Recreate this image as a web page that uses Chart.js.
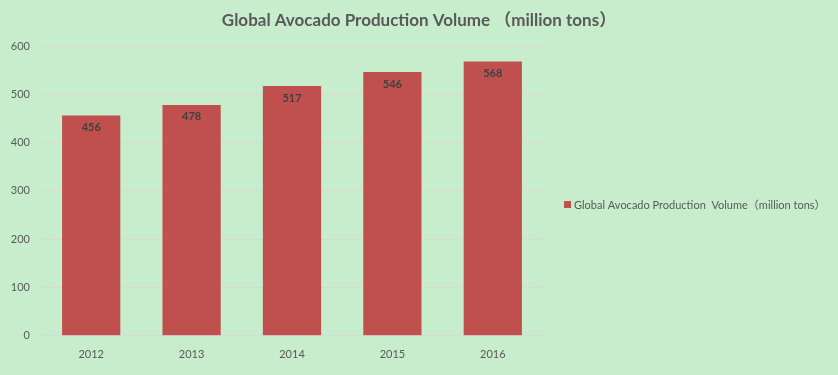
<!DOCTYPE html>
<html>
<head>
<meta charset="utf-8">
<script src="https://cdn.jsdelivr.net/npm/chart.js@4/dist/chart.umd.min.js"></script>
<style>
html,body{margin:0;padding:0;background:#C8EDCC;}
#wrap{position:relative;width:838px;height:375px;}
</style>
</head>
<body>
<div id="wrap"><canvas id="c" width="838" height="375"></canvas></div>
<script>
const categories = ['2012','2013','2014','2015','2016'];
const seriesName = 'Global Avocado Production  Volume（million tons）';
const values = [456, 478, 517, 546, 568];
const yTicks = [0,100,200,300,400,500,600];
const titleText = 'Global Avocado Production Volume （million tons）';

const FONT = "Lato, 'Noto Sans CJK SC', sans-serif";
const TEXT = '#595959';
const BAR = '#C0504D';

const labelPlugin = {
  id: 'barLabels',
  afterDatasetsDraw(chart) {
    const ctx = chart.ctx;
    const meta = chart.getDatasetMeta(0);
    ctx.save();
    ctx.font = "bold 11px " + FONT;
    ctx.fillStyle = '#404040';
    ctx.textAlign = 'center';
    ctx.textBaseline = 'middle';
    meta.data.forEach((bar, i) => {
      ctx.fillText(String(values[i]), bar.x, bar.y + 12);
    });
    ctx.restore();
  }
};
const titleLegendPlugin = {
  id: 'titleLegend',
  afterDraw(chart) {
    const ctx = chart.ctx;
    const ca = chart.chartArea;
    ctx.save();
    // title centred on the whole canvas
    ctx.font = "bold 17px " + FONT;
    ctx.fillStyle = TEXT;
    ctx.textAlign = 'center';
    ctx.textBaseline = 'middle';
    ctx.fillText(titleText, chart.width / 2, 21);
    // legend to the right of the plot
    const cy = Math.round((ca.top + ca.bottom) / 2) + 14;
    const x = ca.right + 21;
    ctx.fillStyle = BAR;
    ctx.fillRect(x, cy - 4, 7, 7);
    ctx.font = "11px " + FONT;
    ctx.fillStyle = TEXT;
    ctx.textAlign = 'left';
    ctx.fillText(seriesName, x + 10, cy);
    ctx.restore();
  }
};
const bgPlugin = {
  id: 'bg',
  beforeDraw(chart){
    const ctx = chart.ctx;
    ctx.save();
    ctx.fillStyle = '#C8EDCC';
    ctx.fillRect(0,0,chart.width,chart.height);
    ctx.restore();
  }
};

new Chart(document.getElementById('c'), {
  type: 'bar',
  data: {
    labels: categories,
    datasets: [{
      label: seriesName,
      data: values,
      backgroundColor: BAR,
      categoryPercentage: 0.58,
      barPercentage: 1.0
    }]
  },
  options: {
    responsive: false,
    animation: false,
    layout: { padding: { left: 0, right: 295, top: 46, bottom: 2 } },
    plugins: {
      title: { display: false },
      legend: { display: false },
      tooltip: { enabled: false }
    },
    scales: {
      x: {
        grid: { display: false, drawTicks: false },
        border: { display: true, color: '#D9D9D9' },
        ticks: { color: TEXT, font: { family: FONT, size: 11 }, padding: 12 }
      },
      y: {
        min: 0, max: 600,
        afterBuildTicks(axis){ axis.ticks = yTicks.map(v => ({ value: v })); },
        afterFit(axis){ axis.width = 41; },
        grid: { color: '#D9D9D9', drawTicks: false },
        border: { display: false },
        ticks: { color: TEXT, font: { family: FONT, size: 11 }, padding: 11 }
      }
    }
  },
  plugins: [bgPlugin, labelPlugin, titleLegendPlugin]
});
</script>
</body>
</html>
